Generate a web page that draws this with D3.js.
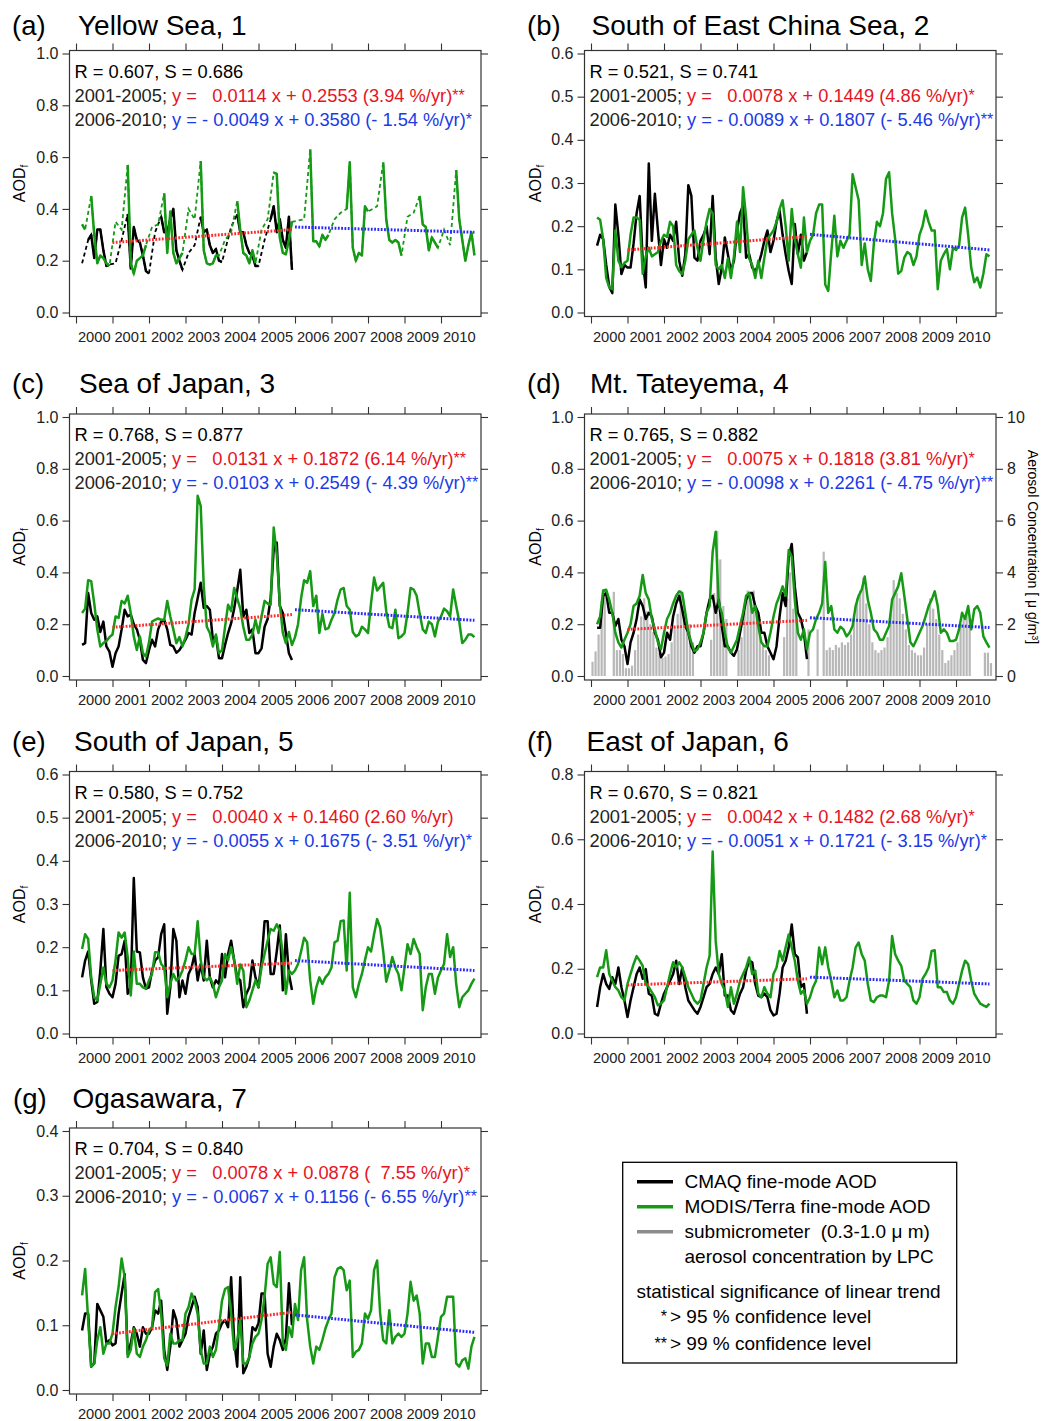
<!DOCTYPE html>
<html>
<head>
<meta charset="utf-8">
<script src="https://cdn.jsdelivr.net/npm/d3@7"></script>
<style>
body { margin: 0; background: #fff; }
svg { font-family: "Liberation Sans", Arial, Helvetica, sans-serif; }
</style>
</head>
<body>
<svg id="fig" width="1043" height="1421"></svg>
<script>
// ---- data -------------------------------------------------------------
const years = d3.range(2000, 2011);
const panelLetters = ['(a)', '(b)', '(c)', '(d)', '(e)', '(f)', '(g)'];
const panelTitles = ['Yellow Sea, 1', 'South of East China Sea, 2', 'Sea of Japan, 3', 'Mt. Tateyema, 4',
  'South of Japan, 5', 'East of Japan, 6', 'Ogasawara, 7'];
const statLabels = ['R = 0.607, S = 0.686', 'R = 0.521, S = 0.741', 'R = 0.768, S = 0.877', 'R = 0.765, S = 0.882',
  'R = 0.580, S = 0.752', 'R = 0.670, S = 0.821', 'R = 0.704, S = 0.840'];
const fitEarlyText = ['y =   0.0114 x + 0.2553 (3.94 %/yr)', 'y =   0.0078 x + 0.1449 (4.86 %/yr)',
  'y =   0.0131 x + 0.1872 (6.14 %/yr)', 'y =   0.0075 x + 0.1818 (3.81 %/yr)',
  'y =   0.0040 x + 0.1460 (2.60 %/yr)', 'y =   0.0042 x + 0.1482 (2.68 %/yr)',
  'y =   0.0078 x + 0.0878 (  7.55 %/yr)'];
const fitEarlyStars = ['**', '*', '**', '*', '', '*', '*'];
const fitLateText = ['y = - 0.0049 x + 0.3580 (- 1.54 %/yr)', 'y = - 0.0089 x + 0.1807 (- 5.46 %/yr)',
  'y = - 0.0103 x + 0.2549 (- 4.39 %/yr)', 'y = - 0.0098 x + 0.2261 (- 4.75 %/yr)',
  'y = - 0.0055 x + 0.1675 (- 3.51 %/yr)', 'y = - 0.0051 x + 0.1721 (- 3.15 %/yr)',
  'y = - 0.0067 x + 0.1156 (- 6.55 %/yr)'];
const fitLateStars = ['*', '**', '**', '**', '*', '*', '**'];
const yMax = [1.0, 0.6, 1.0, 1.0, 0.6, 0.8, 0.4];
const yStep = [0.2, 0.1, 0.2, 0.2, 0.1, 0.2, 0.1];
// trend line values at start / end of 2001-2005 and 2006-2010
const trendEarly = [[0.27, 0.32], [0.145, 0.176], [0.188, 0.237], [0.18, 0.215], [0.146, 0.163], [0.15, 0.169], [0.087, 0.12]];
const trendLate = [[0.33, 0.31], [0.181, 0.145], [0.256, 0.215], [0.225, 0.187], [0.169, 0.146], [0.174, 0.153], [0.116, 0.089]];

// monthly AODf, MODIS Mar 2000 - Dec 2010, CMAQ Mar 2000 - Dec 2005 (null = no data)
const modisA = [
  .34, .32, null, .45, .30, .19, .22, .21, .19, .18,
  null, .35, null, .32, null, .57, .19, .15, .20, .21, .22, .26,
  null, .33, null, .34, null, .46, .23, .39, .23, .19, .21, .23,
  null, .40, null, .36, null, .585, .24, .19, .185, .19, .22, .22,
  null, .28, null, .31, null, .43, .32, .23, .22, .19, .24, .19,
  null, .32, null, .36, null, .54, .535, .29, .23, .225, .28, .35,
  null, .355, null, .36, null, .63, .275, .275, .255, .30, .28, .30,
  null, .36, null, .385, null, .40, .58, .25, .20, .23, .22, .41,
  .39, null, null, .41, null, .58, .36, .28, .27, .28, .27, .22,
  null, .37, null, .385, null, .45, .34, .33, .24, .29, .27, .25,
  null, .32, null, .26, null, .55, .36, .28, .20, .26, .31, .22];
const cmaqA = [
  .19, null, .28, .30, .21, .32, .32, .24, .18, .185,
  null, .19, null, .28, null, .38, .17, .33, .28, .27, .22, .16,
  .15, null, .31, null, .37, .31, .31, .36, .40, .24, .20, .165,
  null, .23, null, .26, null, .37, .31, .32, .26, .23, .245, .20,
  .195, null, null, .33, null, .38, .31, .31, .26, .23, .22, .18,
  .18, null, .28, null, .36, .41, .31, .36, .28, .25, .37, .165];

const modisB = [
  .22, .215, .17, .08, .058, .054, .19, .12, .105, .115,
  .12, .18, .22, .22, .215, .09, .13, .15, .13, .135, .14, .165,
  .18, .175, .21, .20, .11, .096, .089, .12, .17, .18, .19, .15,
  .12, .17, .21, .24, .23, .11, .10, .11, .08, .125, .08, .13,
  .21, .14, .29, .22, .125, .11, .08, .12, .08, .127, .17, .18,
  .19, .21, .24, .26, .20, .12, .24, .17, .135, .104, .22, .14,
  .166, .18, .23, .25, .25, .065, .05, .14, .224, .13, .166, .15,
  .166, .18, .32, .29, .26, .11, .16, .10, .073, .16, .21, .20,
  .23, .31, .325, .23, .17, .09, .096, .127, .14, .135, .11, .13,
  .18, .20, .236, .21, .19, .19, .054, .12, .135, .147, .10, .15,
  .145, .155, .22, .243, .18, .104, .07, .081, .058, .09, .135, .13];
const cmaqB = [
  .155, .18, .17, .11, .06, .045, .25, .18, .089, .11,
  .104, .104, .16, .23, .27, .12, .058, .345, .166, .275, .19, .11,
  .17, .15, .18, .166, .21, .12, .085, .135, .295, .27, .127, .12,
  .166, .18, .20, .135, .27, .127, .066, .104, .174, .135, .096, .12,
  .19, .23, .248, .127, .135, .104, .096, .11, .135, .166, .19, .14,
  .166, .21, .236, .18, .135, .096, .066, .205, .135, .18, .12, .14];

const modisC = [
  .243, .26, .37, .366, .28, .18, .114, .127, .135, .15,
  .16, .23, .224, .29, .28, .31, .243, .153, .10, .153, .088, .075,
  .13, .21, .217, .222, .217, .217, .29, .23, .18, .127, .15, .114,
  .15, .20, .295, .334, .696, .657, .347, .19, .166, .114, .16, .088,
  .10, .19, .275, .25, .34, .30, .26, .19, .14, .14, .16, .217,
  .166, .23, .29, .28, .275, .573, .47, .28, .166, .127, .17, .12,
  .15, .20, .30, .37, .36, .405, .27, .31, .166, .24, .18, .185,
  .217, .243, .295, .334, .34, .27, .256, .17, .153, .16, .19, .18,
  .166, .28, .38, .33, .345, .36, .25, .19, .185, .256, .146, .153,
  .166, .243, .34, .334, .31, .24, .18, .166, .21, .20, .153, .21,
  .23, .26, .25, .23, .334, .27, .21, .127, .14, .16, .16, .15];
const cmaqC = [
  .12, .127, .32, .243, .217, .23, .17, .21, .114, .094,
  .036, .088, .114, .18, .256, .23, .237, .2, .18, .14, .062, .05,
  .10, .14, .114, .18, .21, .217, .18, .12, .114, .09, .10, .12,
  .14, .166, .16, .243, .30, .36, .263, .27, .256, .14, .153, .069,
  .069, .12, .166, .204, .26, .33, .41, .23, .256, .166, .18, .088,
  .088, .107, .19, .22, .30, .49, .515, .27, .243, .166, .088, .062];

const modisD = [
  .20, .23, .33, .333, .295, .244, .167, .13, .11, .14,
  .167, .20, .27, .28, .31, .39, .32, .295, .22, .18, .13, .103,
  .167, .22, .244, .28, .31, .327, .32, .244, .167, .13, .096, .103,
  .13, .167, .244, .27, .48, .557, .28, .244, .167, .11, .09, .115,
  .14, .193, .244, .31, .32, .244, .27, .193, .13, .115, .115, .167,
  .23, .28, .31, .346, .31, .486, .46, .295, .167, .14, .18, .103,
  .167, .18, .22, .244, .28, .44, .244, .27, .18, .167, .19, .18,
  .153, .167, .193, .27, .31, .333, .384, .295, .244, .18, .167, .14,
  .14, .167, .193, .295, .32, .346, .397, .31, .22, .13, .115, .14,
  .167, .193, .23, .27, .295, .327, .27, .167, .18, .167, .135, .135,
  .14, .18, .244, .22, .27, .18, .257, .27, .244, .153, .13, .11];
const cmaqD = [
  .186, .186, .31, .32, .244, .244, .193, .22, .14, .115,
  .046, .13, .167, .22, .295, .27, .22, .244, .23, .167, .14, .072,
  .09, .167, .14, .23, .28, .31, .256, .193, .167, .115, .09, .115,
  .115, .167, .244, .295, .31, .244, .295, .193, .115, .115, .09, .078,
  .103, .167, .23, .295, .32, .32, .27, .244, .167, .167, .115, .09,
  .065, .115, .23, .32, .27, .46, .51, .346, .244, .22, .167, .065];
// LPC submicrometer aerosol concentration at Mt. Tateyama, Jan 2000 - Dec 2010 (ug/m3)
const lpcD = [
  .55, .95, 1.6, 2.9, 3.3, null, null, 3.25, 1.0, 1.0, .85, .3,
  .3, .4, 1.0, 1.6, 2.3, 3.0, 2.5, 2.0, 1.7, 1.1, .9, .7,
  .75, .85, 1.3, 1.9, 2.4, 3.3, 2.6, 2.0, 2.0, 1.3, null, null,
  null, null, null, 1.4, 3.2, 5.6, 4.5, 2.7, 2.2, null, null, null,
  1.0, 1.5, 2.5, 3.3, 3.0, 3.3, 2.5, 2.2, 1.2, 1.0, .8, null,
  null, null, null, 1.5, 3.0, 4.0, 2.6, 2.2, null, null, null, 1.8,
  null, null, 1.8, null, 4.8, 1.0, 1.1, 1.0, 1.2, 1.1, 1.3, 1.2,
  1.3, 1.6, 2.3, 3.0, 3.3, 3.8, 2.8, 2.0, 1.3, 1.0, .9, 1.0,
  1.1, 1.5, 2.4, 3.7, 3.2, 3.0, 2.4, 1.8, 1.2, 1.0, .9, .8,
  .8, 1.1, 2.0, 3.0, 2.6, 2.2, 1.6, 1.0, .5, .6, .8, 1.0,
  1.3, 2.0, 2.3, 2.5, 2.2, null, null, null, null, .9, .9, .5];

const modisE = [
  .196, .23, .219, .13, .084, .077, .115, .153, .115, .107,
  .123, .17, .234, .222, .234, .177, .088, .19, .115, .115, .107, .104,
  .123, .138, .188, .188, .161, .153, .084, .115, .138, .123, .13, .146,
  .17, .2, .184, .184, .26, .17, .13, .123, .13, .115, .084, .107,
  .123, .184, .17, .2, .17, .115, .16, .146, .061, .077, .1, .123,
  .107, .153, .184, .215, .242, .238, .253, .238, .184, .092, .146, .138,
  .146, .161, .19, .222, .211, .123, .069, .107, .13, .115, .13, .138,
  .153, .211, .215, .26, .262, .146, .326, .107, .084, .115, .138, .17,
  .2, .19, .23, .265, .245, .19, .12, .146, .177, .153, .138, .1,
  .153, .207, .184, .219, .2, .184, .054, .107, .138, .138, .092, .13,
  .146, .161, .23, .177, .2, .115, .061, .084, .092, .1, .115, .127];
const cmaqE = [
  .13, .169, .19, .123, .069, .073, .146, .242, .107, .092,
  .084, .115, .18, .184, .215, .092, .107, .36, .19, .188, .13, .104,
  .107, .146, .169, .177, .23, .253, .046, .107, .242, .215, .084, .123,
  .092, .138, .153, .184, .123, .161, .123, .215, .13, .107, .123, .115,
  .184, .13, .184, .215, .169, .13, .123, .061, .092, .107, .169, .13,
  .107, .169, .26, .26, .138, .138, .19, .25, .1, .23, .138, .101];

const modisF = [
  .174, .204, .204, .257, .184, .163, .143, .133, .112, .102,
  .153, .184, .214, .239, .225, .209, .153, .143, .128, .112, .087, .092,
  .102, .143, .184, .22, .204, .22, .204, .174, .143, .123, .102, .092,
  .102, .153, .204, .24, .562, .286, .184, .153, .133, .082, .143, .092,
  .123, .163, .184, .204, .235, .184, .194, .123, .112, .143, .123, .112,
  .184, .204, .255, .225, .266, .306, .266, .225, .163, .123, .133, .092,
  .112, .143, .163, .266, .214, .266, .204, .163, .112, .133, .102, .102,
  .112, .163, .204, .266, .281, .245, .225, .153, .102, .097, .112, .117,
  .117, .112, .163, .301, .245, .225, .209, .163, .153, .143, .102, .092,
  .112, .169, .184, .204, .255, .257, .143, .143, .128, .128, .102, .092,
  .112, .153, .194, .225, .214, .163, .123, .107, .092, .087, .082, .092];
const cmaqF = [
  .082, .143, .184, .153, .138, .174, .153, .204, .143, .102,
  .051, .102, .143, .184, .204, .169, .199, .123, .117, .061, .056, .092,
  .123, .143, .163, .184, .225, .153, .204, .143, .102, .087, .072, .061,
  .082, .112, .143, .153, .184, .204, .184, .245, .117, .117, .072, .061,
  .092, .123, .143, .194, .225, .22, .153, .117, .112, .123, .112, .072,
  .056, .061, .123, .204, .225, .266, .337, .245, .235, .143, .153, .061];

const modisG = [
  .146, .187, .108, .036, .041, .077, .097, .056, .072, .072,
  .087, .128, .159, .203, .174, .051, .062, .095, .056, .051, .067, .077,
  .092, .097, .151, .156, .118, .049, .038, .087, .072, .072, .077, .077,
  .118, .128, .149, .138, .118, .062, .041, .041, .067, .051, .062, .097,
  .138, .156, .159, .118, .062, .077, .108, .041, .041, .051, .072, .082,
  .087, .108, .144, .195, .205, .164, .159, .213, .072, .062, .097, .082,
  .133, .108, .185, .205, .108, .067, .041, .067, .062, .077, .095, .108,
  .118, .174, .187, .19, .185, .154, .169, .051, .059, .062, .072, .118,
  .11, .123, .185, .2, .118, .077, .072, .123, .072, .082, .087, .082,
  .087, .118, .167, .138, .146, .118, .041, .072, .072, .051, .051, .082,
  .113, .118, .144, .144, .144, .041, .036, .046, .049, .033, .067, .082];
const cmaqG = [
  .092, .118, .118, .036, .041, .133, .123, .113, .072, .077,
  .069, .072, .118, .149, .179, .056, .072, .097, .087, .067, .097, .087,
  .087, .097, .123, .118, .138, .062, .031, .067, .123, .108, .067, .077,
  .087, .113, .128, .144, .128, .056, .092, .031, .056, .067, .087, .092,
  .103, .108, .097, .174, .077, .036, .174, .026, .036, .051, .097, .092,
  .103, .149, .149, .056, .036, .067, .087, .077, .062, .08, .165, .10];

const modisSeries = [modisA, modisB, modisC, modisD, modisE, modisF, modisG];
const cmaqSeries = [cmaqA, cmaqB, cmaqC, cmaqD, cmaqE, cmaqF, cmaqG];
const lpcTicks = [0, 2, 4, 6, 8, 10];

// ---- layout -----------------------------------------------------------
const svg = d3.select('#fig');
const FONT = '"Liberation Sans", Arial, Helvetica, sans-serif';
const rowTop = [50.5, 414, 771.5, 1128];
const titleBase = [35, 393, 751, 1108];
const letterX = [12, 527, 12, 527, 12, 527, 13];
const titleX = [78, 591.5, 79, 590, 74, 586.5, 72.5];
const BW = 411.5, BH = 266;
const GREEN = '#169a16', RED = '#e6141e', BLUE = '#1c3ae6', TXT = '#231f20', AX = '#333';

const toPoints = (vals, m0) => vals.map((v, k) => ({ t: 2000 + (m0 + k) / 12, v: v }));

function styleAxis(g, size) {
  g.select('.domain').remove();
  g.selectAll('line').attr('stroke', AX).attr('stroke-width', 1.1);
  g.selectAll('text').attr('fill', '#222').attr('font-size', size).attr('font-family', FONT);
}

function drawPanel(i) {
  const col = i % 2, row = Math.floor(i / 2);
  const bx = col ? 584.5 : 69.5, by = rowTop[row];
  const x = d3.scaleLinear().domain([2000, 2010]).range([bx + 6.5, bx + 371.5]);
  const y = d3.scaleLinear().domain([0, yMax[i]]).range([by + BH - 4, by + 3]);
  const yTicks = d3.range(0, Math.round(yMax[i] / yStep[i]) + 1).map(n => +(n * yStep[i]).toFixed(2));
  const g = svg.append('g');

  // titles
  g.append('text').attr('x', letterX[i]).attr('y', titleBase[row]).attr('font-size', 27.5).text(panelLetters[i]);
  g.append('text').attr('x', titleX[i]).attr('y', titleBase[row]).attr('font-size', 28).text(panelTitles[i]);

  // LPC bars (Mt. Tateyama only)
  if (i === 3) {
    const yR = d3.scaleLinear().domain([0, 10]).range(y.range());
    const bars = lpcD.map((v, k) => ({ t: 2000 + (k + 0.5) / 12, v: v })).filter(d => d.v != null);
    g.append('g').selectAll('rect').data(bars).join('rect')
      .attr('x', d => x(d.t) - 1.1).attr('width', 2.2)
      .attr('y', d => yR(d.v)).attr('height', d => yR(0) - yR(d.v))
      .attr('fill', '#b8b8b8');
    const ra = g.append('g').attr('transform', `translate(${bx + BW},0)`)
      .call(d3.axisRight(yR).tickValues(lpcTicks).tickSize(7).tickPadding(4).tickFormat(d3.format('d')));
    styleAxis(ra, 16);
    const t = g.append('text').attr('font-size', 14)
      .attr('transform', `translate(1028,${by + BH / 2}) rotate(90)`).attr('text-anchor', 'middle')
      .style('white-space', 'pre');
    t.append('tspan').text('Aerosol Concentration [ \u03bc g/m');
    t.append('tspan').attr('font-size', 9).attr('dy', -4).text('3');
    t.append('tspan').attr('dy', 4).text(']');
  }

  const solid = d3.line().defined(d => d.v != null).x(d => x(d.t)).y(d => y(d.v));
  const plain = d3.line().x(d => x(d.t)).y(d => y(d.v));

  [[cmaqSeries[i], '#000'], [modisSeries[i], GREEN]].forEach(([vals, color]) => {
    const pts = toPoints(vals, 2);
    if (vals.some(v => v == null)) {
      g.append('path').attr('d', plain(pts.filter(d => d.v != null)))
        .attr('fill', 'none').attr('stroke', color).attr('stroke-width', 1.8).attr('stroke-dasharray', '4,3');
    }
    g.append('path').attr('d', solid(pts)).attr('fill', 'none').attr('stroke', color)
      .attr('stroke-width', 2.5).attr('stroke-linejoin', 'round');
  });

  // linear trends
  [[trendEarly[i], [2001, 2005 + 11 / 12], '#ff2a2a'], [trendLate[i], [2006, 2010 + 11 / 12], '#2a2aff']]
    .forEach(([vals, ts, color]) => {
      g.append('path').attr('d', plain([{ t: ts[0], v: vals[0] }, { t: ts[1], v: vals[1] }]))
        .attr('stroke', color).attr('stroke-width', 3).attr('stroke-dasharray', '1.8,1.5').attr('fill', 'none');
    });

  // statistics text
  const tx = bx + 5;
  g.append('text').attr('x', tx).attr('y', by + 27).attr('font-size', 18.3).attr('fill', '#000').text(statLabels[i]);
  [[fitEarlyText[i], fitEarlyStars[i], RED, '2001-2005; ', 51], [fitLateText[i], fitLateStars[i], BLUE, '2006-2010; ', 75]]
    .forEach(([txt, stars, color, period, dy]) => {
      const t = g.append('text').attr('x', tx).attr('y', by + dy).attr('font-size', 18.3).style('white-space', 'pre');
      t.append('tspan').attr('fill', TXT).text(period);
      t.append('tspan').attr('fill', color).text(txt);
      if (stars) t.append('tspan').attr('fill', color).attr('font-size', 16).attr('dy', -1).text(stars);
    });

  // frame and axes
  g.append('rect').attr('x', bx).attr('y', by).attr('width', BW).attr('height', BH)
    .attr('fill', 'none').attr('stroke', AX).attr('stroke-width', 1.2);
  const la = g.append('g').attr('transform', `translate(${bx},0)`)
    .call(d3.axisLeft(y).tickValues(yTicks).tickSize(7).tickPadding(4).tickFormat(d3.format('.1f')));
  styleAxis(la, 16);
  if (i !== 3) {
    const ra = g.append('g').attr('transform', `translate(${bx + BW},0)`)
      .call(d3.axisRight(y).tickValues(yTicks).tickSize(7).tickFormat(''));
    styleAxis(ra, 16);
  }
  const ba = g.append('g').attr('transform', `translate(0,${by + BH})`)
    .call(d3.axisBottom(x).tickValues(years).tickSize(7).tickFormat(''));
  styleAxis(ba, 14);
  const ta = g.append('g').attr('transform', `translate(0,${by})`)
    .call(d3.axisTop(x).tickValues(years).tickSize(7).tickFormat(''));
  styleAxis(ta, 14);
  g.append('g').selectAll('text').data(years).join('text')
    .attr('x', d => x(d + 0.5)).attr('y', by + BH + 25).attr('text-anchor', 'middle')
    .attr('font-size', 14.7).attr('fill', '#222').text(d => d);

  // y axis title
  const yl = g.append('text').attr('font-size', 16).attr('text-anchor', 'middle')
    .attr('transform', `translate(${(col ? 535 : 19.5) + 5.5},${by + BH / 2}) rotate(-90)`);
  yl.append('tspan').text('AOD');
  yl.append('tspan').attr('font-size', 10).attr('dy', 3).text('f');
}

d3.range(7).forEach(drawPanel);

// ---- legend -----------------------------------------------------------
const legendColors = ['#000', GREEN, '#8c8c8c'];
const legendLabels = ['CMAQ fine-mode AOD', 'MODIS/Terra fine-mode AOD', 'submicrometer  (0.3-1.0 \u03bc m)'];
const lg = svg.append('g');
lg.append('rect').attr('x', 622.7).attr('y', 1162.3).attr('width', 334).attr('height', 200.7)
  .attr('fill', '#fff').attr('stroke', '#000').attr('stroke-width', 1.3);
legendLabels.forEach((lab, k) => {
  const cy = 1181.7 + k * 25;
  lg.append('line').attr('x1', 637).attr('x2', 673).attr('y1', cy).attr('y2', cy)
    .attr('stroke', legendColors[k]).attr('stroke-width', 3.5);
  lg.append('text').attr('x', 684.5).attr('y', cy + 6.5).attr('font-size', 19).style('white-space', 'pre').text(lab);
});
lg.append('text').attr('x', 684.5).attr('y', 1262.5).attr('font-size', 19).text('aerosol concentration by LPC');
lg.append('text').attr('x', 636.5).attr('y', 1297.5).attr('font-size', 19).text('statistical significance of linear trend');
[['*', '> 95 % confidence level', 1322.5], ['**', '> 99 % confidence level', 1349.5]].forEach(([s, lab, yy]) => {
  lg.append('text').attr('x', 667).attr('y', yy - 1).attr('font-size', 16).attr('text-anchor', 'end').text(s);
  lg.append('text').attr('x', 670).attr('y', yy).attr('font-size', 19).text(lab);
});
</script>
</body>
</html>
